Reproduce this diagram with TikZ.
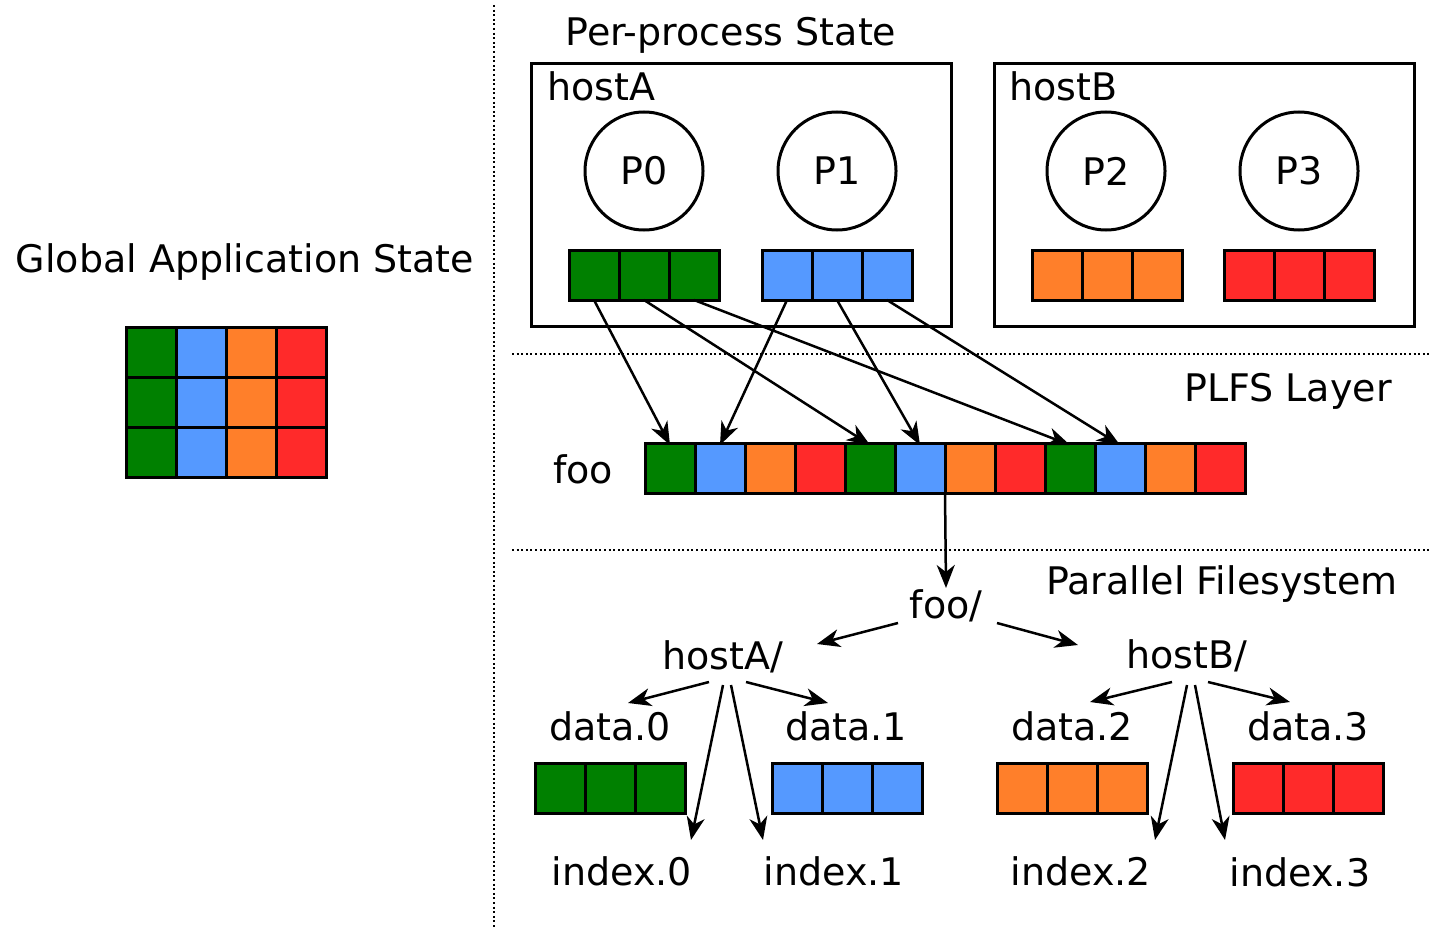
\documentclass[tikz,border=0pt]{standalone}
\usepackage{fontspec}
\setmainfont{DejaVu Sans}
\usetikzlibrary{arrows.meta,calc}
\definecolor{cgreen}{HTML}{008000}
\definecolor{cblue}{HTML}{5599FF}
\definecolor{corange}{HTML}{FF7F2A}
\definecolor{cred}{HTML}{FF2A2A}

\begin{document}
\begin{tikzpicture}[x=1pt,y=-1pt,
  lbl/.style={font=\fontsize{38}{44}\selectfont, inner sep=0pt, anchor=base},
  cell/.style={draw, line width=3pt, minimum width=50pt, minimum height=50pt,
               inner sep=0pt, outer sep=0pt, anchor=north west},
  hostbox/.style={draw, line width=3pt, anchor=north west, inner sep=0pt,
                  minimum width=420pt, minimum height=263pt},
  proc/.style={circle, draw, line width=3pt, minimum size=118pt, inner sep=0pt,
               font=\fontsize{38}{44}\selectfont},
  link/.style={line width=2.5pt, -{Stealth[length=23pt,width=18pt,inset=7pt]}},
  sep/.style={line width=1.6pt, dash pattern=on 2pt off 2.6pt}
]
\useasboundingbox (0,0) rectangle (1431,928);

% separators between the layers
\draw[sep] (494,5) -- (494,928);
\draw[sep] (512,354) -- (1431,354);
\draw[sep] (512,550) -- (1431,550);

% global application state
\node[lbl] (glabel) at (245,272) {Global Application State};
\foreach \c/\col in {0/cgreen,1/cblue,2/corange,3/cred}
  \foreach \r in {0,1,2}
    \node[cell, fill=\col] (gl-\r-\c) at (126+50*\c, 327+50*\r) {};

% per-process state
\node[lbl] (pplabel) at (731,46) {Per-process State};
\node[hostbox] (hostA) at (530,62) {};
\node[hostbox] (hostB) at (993,62) {};
\node[lbl, anchor=base west] (hostAlbl) at (547,101) {hostA};
\node[lbl, anchor=base west] (hostBlbl) at (1009,101) {hostB};
\node[proc] (P0) at (644,171) {P0};
\node[proc] (P1) at (837,171) {P1};
\node[proc] (P2) at (1106,171) {P2};
\node[proc] (P3) at (1299,171) {P3};
\foreach \i in {0,1,2} {
  \node[cell, fill=cgreen]  (pa-\i) at (569+50*\i, 250) {};
  \node[cell, fill=cblue]   (pb-\i) at (762+50*\i, 250) {};
  \node[cell, fill=corange] (pc-\i) at (1032+50*\i, 250) {};
  \node[cell, fill=cred]    (pd-\i) at (1224+50*\i, 250) {};
}

% PLFS layer
\node[lbl] (plfslbl) at (1288,401) {PLFS Layer};
\node[lbl] (foolbl) at (583,483) {foo};
\foreach \k/\col in {0/cgreen,1/cblue,2/corange,3/cred,4/cgreen,5/cblue,
                     6/corange,7/cred,8/cgreen,9/cblue,10/corange,11/cred}
  \node[cell, fill=\col] (foo-\k) at (645+50*\k, 443) {};

\draw[link] (pa-0.south) -- ($(foo-0.north)+(0,2)$);
\draw[link] (pa-1.south) -- ($(foo-4.north)+(0,2)$);
\draw[link] (pa-2.south) -- ($(foo-8.north)+(0,2)$);
\draw[link] (pb-0.south) -- ($(foo-1.north)+(0,2)$);
\draw[link] (pb-1.south) -- ($(foo-5.north)+(0,2)$);
\draw[link] (pb-2.south) -- ($(foo-9.north)+(0,2)$);

% parallel filesystem
\node[lbl] (pfslbl) at (1222,594) {Parallel Filesystem};
\node[lbl] (fooD) at (946,618) {foo/};
\node[lbl] (hostAD) at (723,669) {hostA/};
\node[lbl] (hostBD) at (1187,668) {hostB/};
\node[lbl] (data0) at (610,740) {data.0};
\node[lbl] (data1) at (846,740) {data.1};
\node[lbl] (data2) at (1072,740) {data.2};
\node[lbl] (data3) at (1308,740) {data.3};
\node[lbl] (index0) at (622,885) {index.0};
\node[lbl] (index1) at (834,885) {index.1};
\node[lbl] (index2) at (1081,885) {index.2};
\node[lbl] (index3) at (1300,886) {index.3};
\foreach \i in {0,1,2} {
  \node[cell, fill=cgreen]  (da-\i) at (535+50*\i, 763) {};
  \node[cell, fill=cblue]   (db-\i) at (772+50*\i, 763) {};
  \node[cell, fill=corange] (dc-\i) at (997+50*\i, 763) {};
  \node[cell, fill=cred]    (dd-\i) at (1233+50*\i, 763) {};
}

\draw[link] (foo-5.south east) -- ($(fooD.base)+(0,-30)$);
\draw[link] ($(fooD.base)+(-48,5)$) -- ($(hostAD.base)+(94,-25)$);
\draw[link] ($(fooD.base)+(51,5)$) -- ($(hostBD.base)+(-109,-23)$);

\draw[link] ($(hostAD.base)+(-14,13)$) -- ($(data0.base)+(18,-37)$);
\draw[link] ($(hostAD.base)+(23,13)$) -- ($(data1.base)+(-18,-37)$);
\draw[link] ($(hostAD.base)+(0,16)$) -- ($(index0.base)+(69,-45)$);
\draw[link] ($(hostAD.base)+(8,16)$) -- ($(index1.base)+(-71,-45)$);

\draw[link] ($(hostBD.base)+(-15,14)$) -- ($(data2.base)+(18,-38)$);
\draw[link] ($(hostBD.base)+(21,14)$) -- ($(data3.base)+(-18,-38)$);
\draw[link] ($(hostBD.base)+(0,17)$) -- ($(index2.base)+(74,-45)$);
\draw[link] ($(hostBD.base)+(8,17)$) -- ($(index3.base)+(-75,-46)$);
\end{tikzpicture}
\end{document}
